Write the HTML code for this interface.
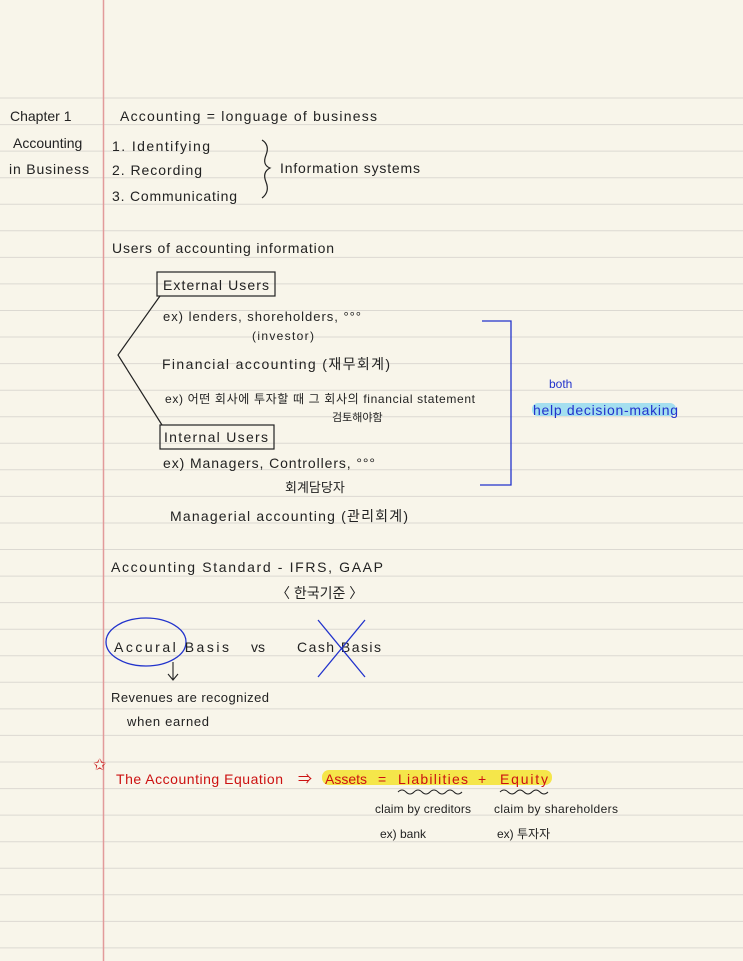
<!DOCTYPE html>
<html><head><meta charset="utf-8"><style>
html,body{margin:0;padding:0;background:#f8f5ea;}
svg{display:block}
text{font-family:"Liberation Sans","Noto Sans CJK KR",sans-serif;font-size:14px;fill:#222;}
</style></head><body>
<svg width="743" height="961" viewBox="0 0 743 961">
<rect width="743" height="961" fill="#f8f5ea"/>
<g stroke="#dcd9d2" stroke-width="1">
<line x1="0" y1="98" x2="743" y2="98"/><line x1="0" y1="124.6" x2="743" y2="124.6"/><line x1="0" y1="151.1" x2="743" y2="151.1"/><line x1="0" y1="177.7" x2="743" y2="177.7"/><line x1="0" y1="204.2" x2="743" y2="204.2"/><line x1="0" y1="230.8" x2="743" y2="230.8"/><line x1="0" y1="257.4" x2="743" y2="257.4"/><line x1="0" y1="283.9" x2="743" y2="283.9"/><line x1="0" y1="310.5" x2="743" y2="310.5"/><line x1="0" y1="337" x2="743" y2="337"/><line x1="0" y1="363.6" x2="743" y2="363.6"/><line x1="0" y1="390.2" x2="743" y2="390.2"/><line x1="0" y1="416.7" x2="743" y2="416.7"/><line x1="0" y1="443.3" x2="743" y2="443.3"/><line x1="0" y1="469.8" x2="743" y2="469.8"/><line x1="0" y1="496.4" x2="743" y2="496.4"/><line x1="0" y1="523" x2="743" y2="523"/><line x1="0" y1="549.5" x2="743" y2="549.5"/><line x1="0" y1="576.1" x2="743" y2="576.1"/><line x1="0" y1="602.6" x2="743" y2="602.6"/><line x1="0" y1="629.2" x2="743" y2="629.2"/><line x1="0" y1="655.8" x2="743" y2="655.8"/><line x1="0" y1="682.3" x2="743" y2="682.3"/><line x1="0" y1="708.9" x2="743" y2="708.9"/><line x1="0" y1="735.4" x2="743" y2="735.4"/><line x1="0" y1="762" x2="743" y2="762"/><line x1="0" y1="788.6" x2="743" y2="788.6"/><line x1="0" y1="815.1" x2="743" y2="815.1"/><line x1="0" y1="841.7" x2="743" y2="841.7"/><line x1="0" y1="868.2" x2="743" y2="868.2"/><line x1="0" y1="894.8" x2="743" y2="894.8"/><line x1="0" y1="921.4" x2="743" y2="921.4"/><line x1="0" y1="947.9" x2="743" y2="947.9"/>
</g>
<line x1="103.5" y1="0" x2="103.5" y2="961" stroke="#e29a9a" stroke-width="1.5"/>

<text x="10" y="121">Chapter 1</text>
<text x="13" y="148">Accounting</text>
<text x="9" y="174" textLength="80">in Business</text>

<text x="120" y="121" textLength="257">Accounting = longuage of business</text>
<text x="112" y="151" textLength="98">1. Identifying</text>
<text x="112" y="175" textLength="90">2. Recording</text>
<text x="112" y="201" textLength="125">3. Communicating</text>
<path d="M262 140 Q270 145 266 155 Q262 165 270 168 Q262 172 266 182 Q270 192 262 198" fill="none" stroke="#222" stroke-width="1.2"/>
<text x="280" y="173" textLength="140">Information systems</text>

<text x="112" y="253" textLength="222">Users of accounting information</text>
<rect x="157" y="272" width="118" height="24" fill="none" stroke="#222" stroke-width="1.2"/>
<text x="163" y="290" textLength="106">External Users</text>
<path d="M160 296 L118 355 L162 425" fill="none" stroke="#222" stroke-width="1.2"/>
<text x="163" y="321" style="font-size:13px" textLength="198">ex) lenders, shoreholders, °°°</text>
<text x="252" y="340" style="font-size:12px" textLength="62">(investor)</text>
<text x="162" y="369" textLength="228">Financial accounting (재무회계)</text>
<text x="165" y="403" style="font-size:12px" textLength="310">ex) 어떤 회사에 투자할 때 그 회사의 financial statement</text>
<text x="332" y="421" style="font-size:11px">검토해야함</text>
<rect x="160" y="425" width="114" height="24" fill="none" stroke="#222" stroke-width="1.2"/>
<text x="164" y="442" textLength="104">Internal Users</text>
<text x="163" y="468" textLength="212">ex) Managers, Controllers, °°°</text>
<text x="285" y="492" style="font-size:13px">회계담당자</text>
<text x="170" y="521" textLength="238">Managerial accounting (관리회계)</text>
<path d="M482 321 L511 321 L511 485 L480 485" fill="none" stroke="#2233cc" stroke-width="1.3"/>
<text x="549" y="388" style="fill:#2233cc;font-size:12px">both</text>
<rect x="532" y="403" width="144" height="13" fill="#8fd9f0" opacity="0.8" rx="6"/>
<text x="533" y="415" style="fill:#2233cc;font-size:14px" textLength="145">help decision-making</text>

<text x="111" y="572" textLength="272">Accounting Standard - IFRS, GAAP</text>
<text x="276" y="598">〈 한국기준 〉</text>
<ellipse cx="146" cy="642" rx="40" ry="24" fill="none" stroke="#2233cc" stroke-width="1.3"/>
<text x="114" y="652" textLength="115">Accural Basis</text>
<text x="251" y="652">vs</text>
<text x="297" y="652" textLength="84">Cash Basis</text>
<path d="M318 620 L365 677 M365 620 L318 677" stroke="#2233cc" stroke-width="1.3"/>
<path d="M173 662 L173 680 M168 674 L173 680 L178 674" fill="none" stroke="#222" stroke-width="1.1"/>
<text x="111" y="702" style="font-size:13px" textLength="158">Revenues are recognized</text>
<text x="127" y="726" style="font-size:13px" textLength="82">when earned</text>

<text x="93" y="770" style="fill:#cc2222;font-size:16px">✩</text>
<rect x="322" y="770" width="230" height="15" fill="#f5e64a" rx="7"/>
<text x="116" y="784" style="fill:#cc1111" textLength="167">The Accounting Equation</text>
<text x="298" y="784" style="fill:#cc1111">⇒</text>
<text x="325" y="784" style="fill:#cc1111">Assets</text>
<text x="378" y="784" style="fill:#cc1111">=</text>
<text x="398" y="784" style="fill:#cc1111" textLength="70">Liabilities</text>
<text x="478" y="784" style="fill:#cc1111">+</text>
<text x="500" y="784" style="fill:#cc1111" textLength="48">Equity</text>
<path d="M398 792 q4 -4 8 0 q4 4 8 0 q4 -4 8 0 q4 4 8 0 q4 -4 8 0 q4 4 8 0 q4 -4 8 0 q4 4 8 0" fill="none" stroke="#222" stroke-width="1"/>
<path d="M500 792 q4 -4 8 0 q4 4 8 0 q4 -4 8 0 q4 4 8 0 q4 -4 8 0 q4 4 8 0" fill="none" stroke="#222" stroke-width="1"/>
<text x="375" y="813" style="font-size:12px" textLength="96">claim by creditors</text>
<text x="494" y="813" style="font-size:12px" textLength="124">claim by shareholders</text>
<text x="380" y="838" style="font-size:12px">ex) bank</text>
<text x="497" y="838" style="font-size:12px">ex) 투자자</text>
</svg>
</body></html>
